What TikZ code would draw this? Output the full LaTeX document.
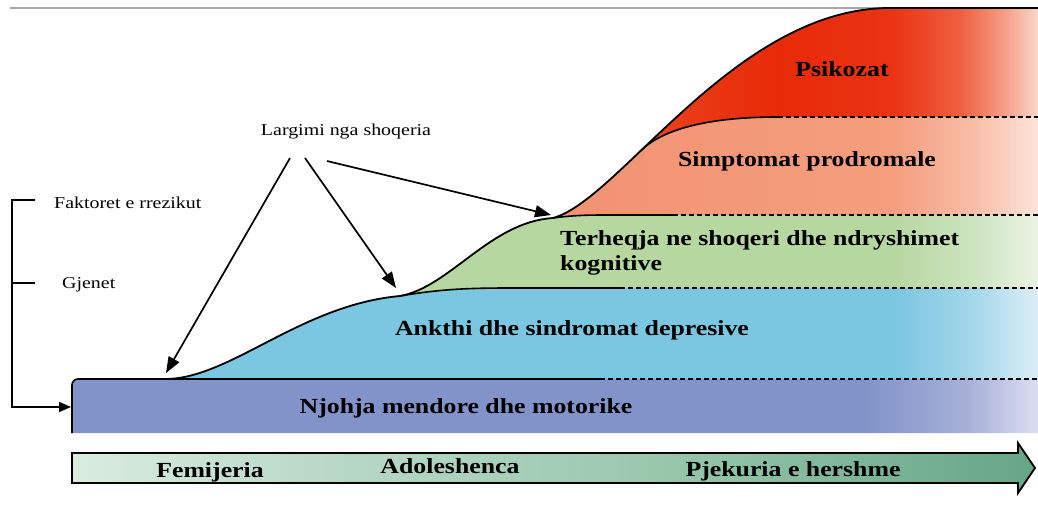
\documentclass[tikz,border=0pt]{standalone}
\usepackage{fontspec}
\setmainfont{Liberation Serif}[FakeStretch=1.2]
\usetikzlibrary{arrows.meta}
% red (Psikozat)
\definecolor{rA}{HTML}{EA4822}\definecolor{rB}{HTML}{E82A08}\definecolor{rC}{HTML}{EA3414}
\definecolor{rD}{HTML}{EE6040}\definecolor{rE}{HTML}{F5A088}\definecolor{rF}{HTML}{FBD8CC}
% salmon
\definecolor{sA}{HTML}{F29474}\definecolor{sB}{HTML}{F49E7E}\definecolor{sC}{HTML}{F8BCA4}\definecolor{sD}{HTML}{FDE4DA}
% green
\definecolor{gA}{HTML}{B6D7A0}\definecolor{gB}{HTML}{CCE3BE}\definecolor{gC}{HTML}{EAF3E4}
% blue
\definecolor{bA}{HTML}{7BC6E0}\definecolor{bB}{HTML}{A2D6EA}\definecolor{bC}{HTML}{DCEEF8}
% violet
\definecolor{vA}{HTML}{8193C8}\definecolor{vB}{HTML}{A8B1D8}\definecolor{vC}{HTML}{DCDEF2}
% arrow
\definecolor{aA}{HTML}{DAECE0}\definecolor{aB}{HTML}{BCDACA}\definecolor{aC}{HTML}{9AC8AD}\definecolor{aD}{HTML}{66A686}
\pgfdeclarehorizontalshading{redsh}{100bp}{color(0bp)=(rA); color(53bp)=(rA); color(61.6bp)=(rB); color(67.5bp)=(rC); color(71bp)=(rD); color(73.3bp)=(rE); color(75bp)=(rF); color(100bp)=(rF)}
\pgfdeclarehorizontalshading{salsh}{100bp}{color(0bp)=(sA); color(52.3bp)=(sA); color(67.5bp)=(sB); color(71.5bp)=(sC); color(75bp)=(sD); color(100bp)=(sD)}
\pgfdeclarehorizontalshading{grnsh}{100bp}{color(0bp)=(gA); color(67.5bp)=(gA); color(71.5bp)=(gB); color(75bp)=(gC); color(100bp)=(gC)}
\pgfdeclarehorizontalshading{blush}{100bp}{color(0bp)=(bA); color(67.5bp)=(bA); color(71.5bp)=(bB); color(75bp)=(bC); color(100bp)=(bC)}
\pgfdeclarehorizontalshading{vioSh}{100bp}{color(0bp)=(vA); color(66bp)=(vA); color(71.5bp)=(vB); color(75bp)=(vC); color(100bp)=(vC)}
\pgfdeclarehorizontalshading{arrsh}{100bp}{color(0bp)=(aA); color(25bp)=(aA); color(36.8bp)=(aB); color(54.9bp)=(aC); color(75bp)=(aD); color(100bp)=(aD)}
\tikzset{
  envline/.style={line width=1.8pt, black},
  solidln/.style={line width=1.6pt, black},
  dashln/.style={line width=1.3pt, black, dash pattern=on 5pt off 3pt},
  bigtxt/.style={font=\bfseries\fontsize{21.5}{25}\selectfont, inner sep=0pt, anchor=base},
  smalltxt/.style={font=\fontsize{16.6}{19}\selectfont, inner sep=0pt, anchor=base},
  pointer/.style={line width=1.7pt, -{Triangle[length=16pt,width=12pt]}},
  bracket/.style={line width=1.6pt, -{Triangle[length=12pt,width=10pt]}}
}
\begin{document}
\begin{tikzpicture}[x=1pt,y=-1pt]
\useasboundingbox (0,0) rectangle (1038,512);
% top gray rule
\draw[black!35, line width=1.2pt] (10,8) -- (1038,8);
% red region
\begin{scope}
  \clip (553,218) .. controls (620,200) and (735,8) .. (890,8) -- (1040,8) -- (1040,232) -- (553,232) -- cycle;
  \shade[shading=redsh] (72,0) rectangle (1038,240);
  % salmon region
  \clip (641,150.5) .. controls (665,127) and (715,117) .. (778,117) -- (1040,117) -- (1040,232) -- (500,232) -- cycle;
  \shade[shading=salsh] (72,0) rectangle (1038,240);
\end{scope}
% green region
\begin{scope}
  \clip (400,296) .. controls (450,287) and (490,222) .. (553,218) .. controls (575,215) and (590,215) .. (610,215) -- (1040,215) -- (1040,290) -- (510,288) .. controls (470,288) and (440,289) .. (400,296) -- cycle;
  \shade[shading=grnsh] (72,200) rectangle (1038,300);
\end{scope}
% blue region
\begin{scope}
  \clip (165,379) .. controls (230,379) and (300,305) .. (400,296) .. controls (440,289) and (470,288) .. (510,288) -- (1040,288) -- (1040,385) -- (165,385) -- cycle;
  \shade[shading=blush] (72,280) rectangle (1038,390);
\end{scope}
% violet band
\begin{scope}
  \clip (72,433) [rounded corners=6pt] -- (72,379) -- (1040,379) [sharp corners] -- (1040,433) -- cycle;
  \shade[shading=vioSh] (72,370) rectangle (1038,440);
\end{scope}
% boundary lines
\draw[envline] (165,379) .. controls (230,379) and (300,305) .. (400,296)
  .. controls (450,287) and (490,222) .. (553,218)
  .. controls (620,200) and (735,8) .. (890,8) -- (1040,8);
\draw[solidln] (72,433) [rounded corners=6pt] -- (72,379) -- (600,379);
\draw[dashln] (600,379) -- (1038,379);
\draw[solidln] (400,296) .. controls (440,289) and (470,288) .. (510,288) -- (620,288);
\draw[dashln] (620,288) -- (1038,288);
\draw[solidln] (553,218) .. controls (575,215) and (590,215) .. (610,215) -- (673,215);
\draw[dashln] (673,215) -- (1038,215);
\draw[solidln] (641,150.5) .. controls (665,127) and (715,117) .. (778,117);
\draw[dashln] (778,117) -- (1038,117);
% bottom arrow
\shade[shading=arrsh, draw=black, line width=1.8pt] (72,453) -- (1018,453) -- (1018,443) -- (1035,468) -- (1018,493) -- (1018,483) -- (72,483) -- cycle;
% region labels
\node[bigtxt] (psi) at (842,76) {Psikozat};
\node[bigtxt] (sim) at (807,166) {Simptomat prodromale};
\node[bigtxt, anchor=base west] (ter1) at (560,245) {Terheqja ne shoqeri dhe ndryshimet};
\node[bigtxt, anchor=base west] (ter2) at (560,270) {kognitive};
\node[bigtxt] (ank) at (572,335) {Ankthi dhe sindromat depresive};
\node[bigtxt] (njo) at (466,413) {Njohja mendore dhe motorike};
\node[bigtxt] (fem) at (210,477) {Femijeria};
\node[bigtxt] (ado) at (450,473) {Adoleshenca};
\node[bigtxt] (pje) at (793,476) {Pjekuria e hershme};
% left labels
\node[smalltxt] (lrg) at (346,135) {Largimi nga shoqeria};
\node[smalltxt, anchor=base west] (fak) at (54,208) {Faktoret e rrezikut};
\node[smalltxt, anchor=base west] (gje) at (62,288) {Gjenet};
% pointers
\coordinate (s1) at (290,158);
\coordinate (s2) at (305,158);
\coordinate (s3) at (327,161);
\coordinate (e1) at (166,373);
\coordinate (e2) at (396,288);
\coordinate (e3) at (551,215);
\draw[pointer] (s1) -- (e1);
\draw[pointer] (s2) -- (e2);
\draw[pointer] (s3) -- (e3);
% bracket
\coordinate (bt) at (35,200);
\coordinate (bm) at (35,283);
\coordinate (bl) at (12,283);
\coordinate (nj) at (71,407);
\draw[bracket] (bt) -- (12,200) -- (12,407) -- (nj);
\draw[line width=1.6pt] (bl) -- (bm);
\end{tikzpicture}
\end{document}
